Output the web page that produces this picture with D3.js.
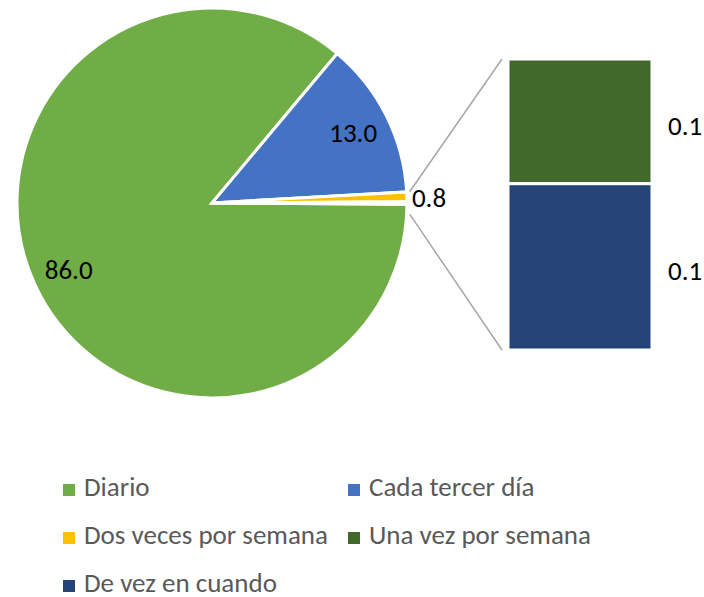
<!DOCTYPE html>
<html lang="es">
<head>
<meta charset="UTF-8">
<title>Frecuencia</title>
<script src="https://cdn.jsdelivr.net/npm/d3@7/dist/d3.min.js"></script>
<style>
  body { margin: 0; background: #fff; }
  svg text { font-family: Carlito, Calibri, Lato, sans-serif; }
</style>
</head>
<body>
<div id="graph"></div>
<script>
    // datos
    var pieNames = ["Diario", "Cada tercer día", "Dos veces por semana"];
    var pieValues = [86.0, 13.0, 0.8];
    var barNames = ["Una vez por semana", "De vez en cuando"];
    var barValues = [0.09, 0.12];
    var barLabels = ["0.1", "0.1"];
    var pieLabels = ["86.0", "13.0", "0.8"];
    var colors = ["#70AD47", "#4472C4", "#FFC000", "#43682B", "#264478"];

    var width = 704, height = 597;
    var cx = 212, cy = 203, radius = 195;
    var barX = 508, barW = 144, barTop = 59, barBottom = 350;
    var fontSize = 27;

    var svg = d3.select("#graph").append("svg")
        .attr("width", width).attr("height", height);

    var otherTotal = d3.sum(barValues);
    var pieData = pieValues.map(function(v, i) { return { name: pieNames[i], value: v, label: pieLabels[i], color: colors[i] }; });
    pieData.push({ name: "Otro", value: otherTotal, label: "", color: "#ffffff" });

    var total = d3.sum(pieData, function(d) { return d.value; });
    var half = Math.PI * otherTotal / total;

    var pie = d3.pie()
        .sort(null)
        .value(function(d) { return d.value; })
        .startAngle(Math.PI / 2 + half - 2 * Math.PI)
        .endAngle(Math.PI / 2 + half);

    var arcs = pie(pieData);
    var arc = d3.arc().innerRadius(0).outerRadius(radius);
    var labelArc = d3.arc().innerRadius(radius * 0.81).outerRadius(radius * 0.81);

    var g = svg.append("g").attr("transform", "translate(" + cx + "," + cy + ")");

    g.selectAll("path")
        .data(arcs)
        .enter()
        .append("path")
        .attr("d", arc)
        .attr("fill", function(d) { return d.data.color; })
        .attr("stroke", "#fff")
        .attr("stroke-width", 3)
        .attr("stroke-linejoin", "miter");

    // etiquetas del pastel
    g.selectAll("text.in")
        .data(arcs.slice(0, 2))
        .enter()
        .append("text")
        .attr("class", "in")
        .attr("transform", function(d) { return "translate(" + labelArc.centroid(d) + ")"; })
        .attr("dy", "0.35em")
        .attr("text-anchor", "middle")
        .attr("font-size", fontSize)
        .attr("fill", "#000")
        .text(function(d) { return d.data.label; });

    var small = arcs[2];
    var smallMid = (small.startAngle + small.endAngle) / 2;
    g.append("text")
        .attr("x", Math.sin(smallMid) * (radius + 5))
        .attr("y", -Math.cos(smallMid) * (radius + 5) + 1)
        .attr("dy", "0.35em")
        .attr("font-size", fontSize)
        .attr("fill", "#000")
        .text(small.data.label);

    // barra apilada
    var yScale = d3.scaleLinear()
        .domain([0, otherTotal])
        .range([barTop, barBottom]);

    var stacked = d3.cumsum(barValues);
    var barData = barValues.map(function(v, i) {
        return { name: barNames[i], y0: stacked[i] - v, y1: stacked[i], label: barLabels[i], color: colors[3 + i] };
    });

    // líneas de conexión
    var other = arcs[3];
    var p1 = [cx + Math.sin(other.startAngle - 0.05) * (radius + 3), cy - Math.cos(other.startAngle - 0.05) * (radius + 3)];
    var p2 = [cx + Math.sin(other.endAngle + 0.05) * (radius + 3), cy - Math.cos(other.endAngle + 0.05) * (radius + 3)];
    svg.append("line")
        .attr("x1", p1[0]).attr("y1", p1[1])
        .attr("x2", barX - 6).attr("y2", yScale(0))
        .attr("stroke", "#A6A6A6").attr("stroke-width", 1.5);
    svg.append("line")
        .attr("x1", p2[0]).attr("y1", p2[1])
        .attr("x2", barX - 6).attr("y2", yScale(otherTotal))
        .attr("stroke", "#A6A6A6").attr("stroke-width", 1.5);

    svg.append("g")
        .selectAll("rect")
        .data(barData)
        .enter()
        .append("rect")
        .attr("x", barX)
        .attr("y", function(d) { return yScale(d.y0); })
        .attr("width", barW)
        .attr("height", function(d) { return yScale(d.y1) - yScale(d.y0); })
        .attr("fill", function(d) { return d.color; })
        .attr("stroke", "#fff")
        .attr("stroke-width", 3);

    svg.append("g")
        .selectAll("text")
        .data(barData)
        .enter()
        .append("text")
        .attr("x", barX + barW + 16)
        .attr("y", function(d) { return yScale((d.y0 + d.y1) / 2) + 4; })
        .attr("dy", "0.35em")
        .attr("font-size", fontSize)
        .attr("fill", "#000")
        .text(function(d) { return d.label; });

    // leyenda
    var legendItems = pieData.slice(0, 3).concat(barData);
    var cols = [63, 348], rows = [487, 535, 583];
    var legend = svg.append("g")
        .selectAll("g")
        .data(legendItems)
        .enter()
        .append("g")
        .attr("transform", function(d, i) { return "translate(" + cols[i % 2] + "," + rows[Math.floor(i / 2)] + ")"; });
    legend.append("rect")
        .attr("x", 0).attr("y", -3)
        .attr("width", 12).attr("height", 12)
        .attr("fill", function(d) { return d.color; });
    legend.append("text")
        .attr("x", 21)
        .attr("dy", "0.35em")
        .attr("font-size", fontSize)
        .attr("fill", "#595959")
        .text(function(d) { return d.name; });
</script>
</body>
</html>
